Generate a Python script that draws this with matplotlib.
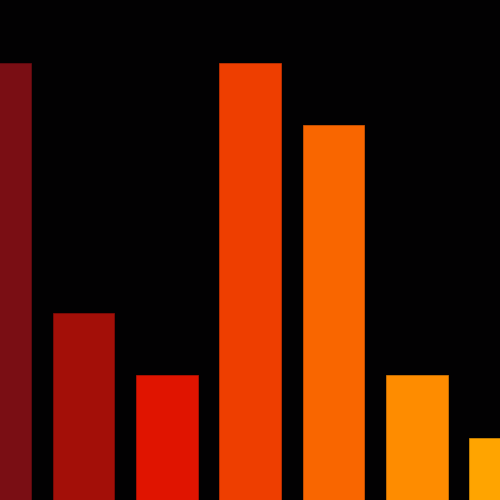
import matplotlib
matplotlib.use('Agg')
import matplotlib.pyplot as plt

categories = ['A', 'B', 'C', 'D', 'E', 'F', 'G']
values = [7, 3, 2, 7, 6, 2, 1]
colors = ['#7a0e14', '#a30f08', '#e01400', '#ee3e00', '#f96600', '#fe8c00', '#ffa400']
edges = ['#6a0a10', '#8a0a05', '#c01000', '#d03400', '#e05a00', '#e07c00', '#e09000']

fig = plt.figure(figsize=(5, 5), dpi=100, facecolor='#020102')
ax = fig.add_axes([0, 0, 1, 1])
ax.set_facecolor('#020102')

x = range(len(categories))
ax.bar(x, values, width=0.74, color=colors, edgecolor=edges, linewidth=0.5)

ax.set_xlim(0, len(categories) - 1)
ax.set_ylim(0, 8)
ax.axis('off')

fig.savefig('out.png', dpi=100, facecolor=fig.get_facecolor())
